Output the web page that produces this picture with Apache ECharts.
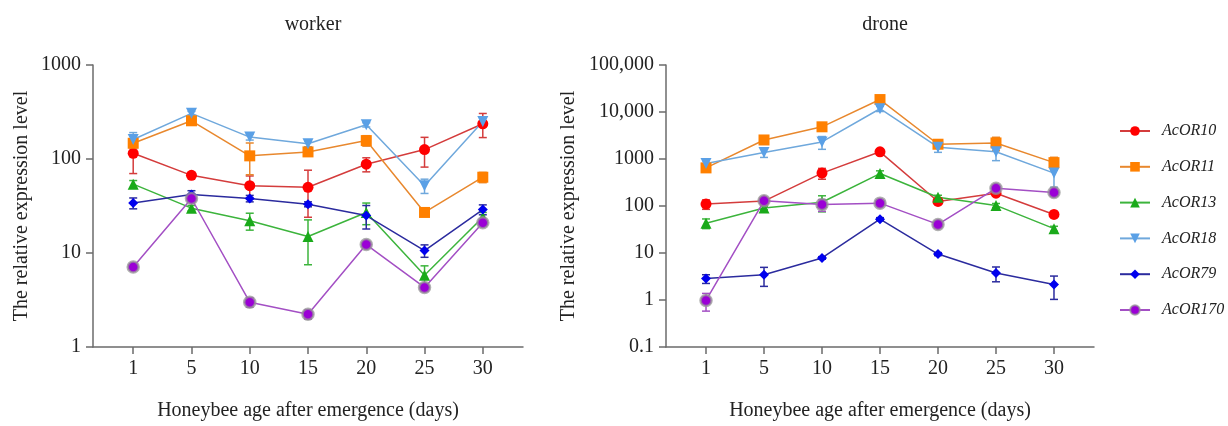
<!DOCTYPE html>
<html>
<head>
<meta charset="utf-8">
<script src="https://cdn.jsdelivr.net/npm/echarts@6/dist/echarts.min.js"></script>
<style>
html,body{margin:0;padding:0;background:#fff;}
#chart{width:1228px;height:426px;}
</style>
</head>
<body>
<div id="chart"></div>
<script>
// ---- Data ----
const days = ['1', '5', '10', '15', '20', '25', '30'];
const geneNames = ['AcOR10', 'AcOR11', 'AcOR13', 'AcOR18', 'AcOR79', 'AcOR170'];

// worker: means and error (SD)
const workerAcOR10 = [115, 67, 52, 50, 88, 126, 237];
const workerAcOR10Err = [45, 3, 14, 26, 15, 44, 68];
const workerAcOR11 = [147, 255, 108, 119, 157, 27, 64];
const workerAcOR11Err = [15, 15, 40, 12, 20, 2, 8];
const workerAcOR13 = [54, 30, 22, 15, 27, 5.8, 24];
const workerAcOR13Err = [5, 2, 4.5, 7.5, 7, 1.5, 3];
const workerAcOR18 = [161, 306, 171, 145, 231, 52, 251];
const workerAcOR18Err = [30, 15, 12, 10, 12, 9, 25];
const workerAcOR79 = [34, 42, 38, 33, 25, 10.6, 29];
const workerAcOR79Err = [4.5, 4, 3, 2, 7, 1.6, 3.5];
const workerAcOR170 = [7.1, 38, 3.0, 2.23, 12.3, 4.3, 21];
const workerAcOR170Err = [0.5, 3, 0.35, 0.25, 0.8, 0.4, 1.5];

// drone: means and error (SD)
const droneAcOR10 = [110, 127, 501, 1422, 125, 187, 66];
const droneAcOR10Err = [25, 10, 130, 150, 15, 25, 8];
const droneAcOR11 = [647, 2540, 4840, 18400, 2062, 2198, 837];
const droneAcOR11Err = [80, 300, 500, 1500, 300, 700, 250];
const droneAcOR13 = [43, 91, 120, 490, 154, 103, 33];
const droneAcOR13Err = [10, 8, 45, 70, 15, 10, 4];
const droneAcOR18 = [798, 1380, 2306, 11740, 1785, 1422, 501];
const droneAcOR18Err = [120, 300, 700, 1500, 400, 500, 250];
const droneAcOR79 = [2.85, 3.45, 7.86, 52.5, 9.5, 3.74, 2.13];
const droneAcOR79Err = [0.6, 1.5, 0.5, 4, 0.7, 1.3, 1.1];
const droneAcOR170 = [0.98, 129, 107, 115, 40.6, 238, 193];
const droneAcOR170Err = [0.4, 10, 30, 8, 4, 20, 15];

const workerTicks = [1, 10, 100, 1000];
const droneTicks = [0.1, 1, 10, 100, 1000, 10000, 100000];
const droneTickLabels = ['0.1', '1', '10', '100', '1000', '10,000', '100,000'];

// ---- Styles ----
const styles = {
  AcOR10:  { symbol: 'circle',   size: 11, rot: 0,   marker: '#ff0000', line: '#d43c3c' },
  AcOR11:  { symbol: 'rect',     size: 11, rot: 0,   marker: '#ff8000', line: '#e8882e' },
  AcOR13:  { symbol: 'triangle', size: 11, rot: 0,   marker: '#1aaa1a', line: '#3cb43c' },
  AcOR18:  { symbol: 'triangle', size: 11, rot: 180, marker: '#5aa0e6', line: '#6fa8dc' },
  AcOR79:  { symbol: 'diamond',  size: 10, rot: 0,   marker: '#0000ee', line: '#2b2b9e' },
  AcOR170: { symbol: 'circle',   size: 11, rot: 0,   marker: '#9b00d6', line: '#a34fc4', halo: 'rgba(150,150,150,0.75)' }
};

const FONT = '"Liberation Serif", "Times New Roman", serif';
const AXIS_COLOR = '#6b6b6b';

const workerData = {
  AcOR10: [workerAcOR10, workerAcOR10Err], AcOR11: [workerAcOR11, workerAcOR11Err],
  AcOR13: [workerAcOR13, workerAcOR13Err], AcOR18: [workerAcOR18, workerAcOR18Err],
  AcOR79: [workerAcOR79, workerAcOR79Err], AcOR170: [workerAcOR170, workerAcOR170Err]
};
const droneData = {
  AcOR10: [droneAcOR10, droneAcOR10Err], AcOR11: [droneAcOR11, droneAcOR11Err],
  AcOR13: [droneAcOR13, droneAcOR13Err], AcOR18: [droneAcOR18, droneAcOR18Err],
  AcOR79: [droneAcOR79, droneAcOR79Err], AcOR170: [droneAcOR170, droneAcOR170Err]
};

const idx = days.map((d, i) => i);

function xAxisCfg(gridIndex) {
  return {
    type: 'value', gridIndex: gridIndex, min: -0.69, max: 6.69,
    name: 'Honeybee age after emergence (days)', nameLocation: 'middle', nameGap: 54,
    nameMoveOverlap: false,
    nameTextStyle: { fontFamily: FONT, fontSize: 20, color: '#222' },
    axisLine: { onZero: false, lineStyle: { color: AXIS_COLOR, width: 1.5 } },
    axisTick: { show: true, length: 7, customValues: idx, lineStyle: { color: AXIS_COLOR, width: 1.5 } },
    axisLabel: { customValues: idx, formatter: v => days[Math.round(v)], margin: 12,
      fontFamily: FONT, fontSize: 20, color: '#222' },
    splitLine: { show: false }
  };
}

function yAxisCfg(gridIndex, min, max, ticks, labels, gap) {
  return {
    type: 'log', logBase: 10, gridIndex: gridIndex, min: min, max: max,
    name: 'The relative expression level', nameLocation: 'middle', nameGap: gap,
    nameMoveOverlap: false,
    nameTextStyle: { fontFamily: FONT, fontSize: 20, color: '#222' },
    axisLine: { show: true, onZero: false, lineStyle: { color: AXIS_COLOR, width: 1.5 } },
    axisTick: { show: true, length: 7, customValues: ticks, lineStyle: { color: AXIS_COLOR, width: 1.5 } },
    axisLabel: { customValues: ticks, margin: 12, fontFamily: FONT, fontSize: 20, color: '#222',
      formatter: v => { const k = ticks.findIndex(t => Math.abs(t - v) / t < 1e-6); return k >= 0 ? labels[k] : ''; } },
    splitLine: { show: false },
    minorTick: { show: false }
  };
}

const series = [];
function addSeries(dataMap, axisIndex) {
  geneNames.forEach(name => {
    const st = styles[name];
    const vals = dataMap[name][0];
    const errs = dataMap[name][1];
    series.push({
      type: 'custom', name: name + '_err', xAxisIndex: axisIndex, yAxisIndex: axisIndex,
      silent: true, z: 2,
      data: vals.map((v, i) => [i, Math.max(v - errs[i], 1e-3), v + errs[i]]),
      renderItem: (params, api) => {
        const x = api.value(0);
        const lo = api.coord([x, api.value(1)]);
        const hi = api.coord([x, api.value(2)]);
        const cap = 4;
        const style = { stroke: st.line, lineWidth: 1.5, fill: null };
        return { type: 'group', children: [
          { type: 'line', shape: { x1: lo[0], y1: lo[1], x2: hi[0], y2: hi[1] }, style: style },
          { type: 'line', shape: { x1: hi[0] - cap, y1: hi[1], x2: hi[0] + cap, y2: hi[1] }, style: style },
          { type: 'line', shape: { x1: lo[0] - cap, y1: lo[1], x2: lo[0] + cap, y2: lo[1] }, style: style }
        ]};
      }
    });
    series.push({
      type: 'line', name: name, xAxisIndex: axisIndex, yAxisIndex: axisIndex, z: 3,
      data: vals.map((v, i) => [i, v]),
      symbol: st.symbol, symbolSize: st.size, symbolRotate: st.rot, showAllSymbol: true,
      lineStyle: { color: st.line, width: 1.5 },
      itemStyle: { color: st.marker, borderColor: st.halo || st.marker, borderWidth: st.halo ? 2.5 : 0 },
      emphasis: { disabled: true },
      animation: false
    });
  });
}
addSeries(workerData, 0);
addSeries(droneData, 1);

const chart = echarts.init(document.getElementById('chart'), null, { renderer: 'canvas' });
chart.setOption({
  animation: false,
  backgroundColor: '#fff',
  title: [
    { text: 'worker', left: 308, top: 10, textAlign: 'center',
      textStyle: { fontFamily: FONT, fontSize: 20, fontWeight: 'normal', color: '#222' } },
    { text: 'drone', left: 880, top: 10, textAlign: 'center',
      textStyle: { fontFamily: FONT, fontSize: 20, fontWeight: 'normal', color: '#222' } }
  ],
  legend: {
    data: geneNames, orient: 'vertical', left: 1114, top: 118,
    itemWidth: 30, itemHeight: 12, itemGap: 19.8,
    textStyle: { fontFamily: FONT, fontSize: 16, fontStyle: 'italic', color: '#222', padding: [0, 0, 0, 7] },
    selectedMode: false
  },
  grid: [
    { left: 93, right: 705, top: 65, bottom: 75 },
    { left: 666, right: 134, top: 65, bottom: 74 }
  ],
  xAxis: [xAxisCfg(0), xAxisCfg(1)],
  yAxis: [
    yAxisCfg(0, 1, 1000, workerTicks, workerTicks.map(String), 61),
    yAxisCfg(1, 0.1, 100000, droneTicks, droneTickLabels, 87)
  ],
  series: series
});
</script>
</body>
</html>
